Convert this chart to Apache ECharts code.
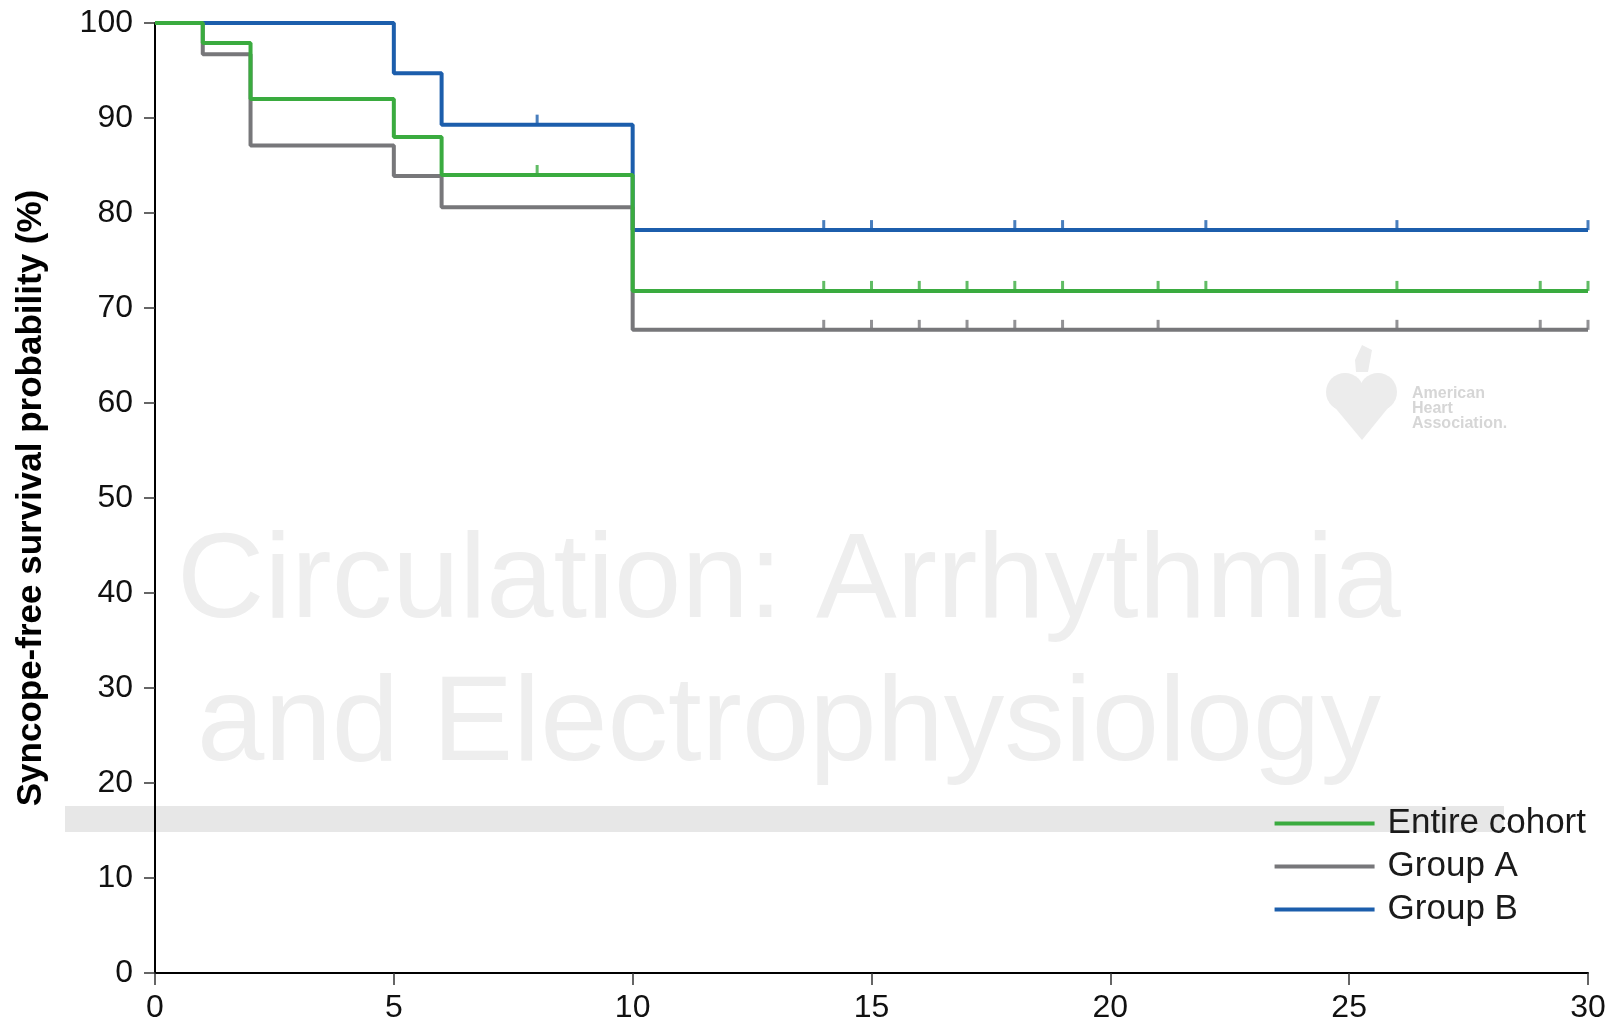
<!DOCTYPE html>
<html>
<head>
<meta charset="utf-8">
<script src="https://cdn.jsdelivr.net/npm/echarts@6/dist/echarts.min.js"></script>
<style>
html,body{margin:0;padding:0;background:#fff;}
#chart{width:1610px;height:1034px;}
</style>
</head>
<body>
<div id="chart"></div>
<script>
// ---- Data ----
const seriesNames = ['Entire cohort', 'Group A', 'Group B'];
const xTicks = [0, 5, 10, 15, 20, 25, 30];
const yTicks = [0, 10, 20, 30, 40, 50, 60, 70, 80, 90, 100];

const entireTimes = [0, 1, 2, 5, 6, 10, 30];
const entireSurv  = [100, 97.9, 92.0, 88.0, 84.0, 71.8, 71.8];
const entireCensor = [8, 14, 15, 16, 17, 18, 19, 21, 22, 26, 29, 30];

const groupATimes = [0, 1, 2, 5, 6, 10, 30];
const groupASurv  = [100, 96.7, 87.1, 83.9, 80.6, 67.7, 67.7];
const groupACensor = [14, 15, 16, 17, 18, 19, 21, 26, 29, 30];

const groupBTimes = [0, 5, 6, 10, 30];
const groupBSurv  = [100, 94.7, 89.3, 78.2, 78.2];
const groupBCensor = [8, 14, 15, 18, 19, 22, 26, 30];

const colors = ['#3aab3f', '#77777a', '#1c5eac'];

// ---- Build ----
function pairs(t, s) { return t.map((v, i) => [v, s[i]]); }
function stepValue(t, s, x) {
  let v = s[0];
  for (let i = 0; i < t.length; i++) { if (t[i] <= x) v = s[i]; }
  return v;
}
function censorPts(c, t, s) { return c.map(x => [x, stepValue(t, s, x)]); }

const groups = [
  { name: seriesNames[0], t: entireTimes, s: entireSurv, c: entireCensor },
  { name: seriesNames[1], t: groupATimes, s: groupASurv, c: groupACensor },
  { name: seriesNames[2], t: groupBTimes, s: groupBSurv, c: groupBCensor }
];

const series = [];
groups.forEach((g, i) => {
  series.push({
    name: g.name, type: 'line', step: 'end', data: pairs(g.t, g.s),
    showSymbol: false, symbol: 'none', z: 3 + (2 - i),
    lineStyle: { color: colors[i], width: 4 },
    itemStyle: { color: colors[i] }, animation: false
  });
  series.push({
    name: g.name + ' censored', type: 'scatter', data: censorPts(g.c, g.t, g.s),
    symbol: 'rect', symbolSize: [3, 10], symbolOffset: [0, -5], z: 3 + (2 - i),
    itemStyle: { color: colors[i] }, animation: false, silent: true
  });
});

const wmFont = '"Liberation Sans", Arial, sans-serif';
const chart = echarts.init(document.getElementById('chart'), null, { renderer: 'canvas' });
chart.setOption({
  backgroundColor: '#ffffff',
  animation: false,
  grid: { left: 155, right: 22, top: 23, bottom: 61, containLabel: false },
  graphic: [
    { type: 'rect', z: -10, shape: { x: 65, y: 806, width: 1439, height: 26 }, style: { fill: '#e7e7e7' } },
    { type: 'text', z: -10, x: 789, y: 644, style: { text: 'Circulation: Arrhythmia', fill: '#eeeeee', font: '121px ' + wmFont, textAlign: 'center', textVerticalAlign: 'bottom' } },
    { type: 'text', z: -10, x: 789, y: 787, style: { text: 'and Electrophysiology', fill: '#eeeeee', font: '121px ' + wmFont, textAlign: 'center', textVerticalAlign: 'bottom' } },
    { type: 'circle', z: -10, shape: { cx: 1345, cy: 392, r: 19 }, style: { fill: '#ececec' } },
    { type: 'circle', z: -10, shape: { cx: 1378, cy: 392, r: 19 }, style: { fill: '#ececec' } },
    { type: 'polygon', z: -10, shape: { points: [[1327, 398], [1396, 398], [1362, 440]] }, style: { fill: '#ececec' } },
    { type: 'polygon', z: -10, shape: { points: [[1356, 372], [1368, 372], [1372, 350], [1362, 345], [1355, 360]] }, style: { fill: '#ececec' } },
    { type: 'text', z: -10, x: 1412, y: 386, style: { text: 'American\nHeart\nAssociation.', fill: '#d6d6d6', font: '600 16px ' + wmFont, lineHeight: 15 } }
  ],
  legend: {
    data: seriesNames,
    orient: 'vertical',
    right: 19, top: 801,
    icon: 'rect', itemWidth: 100, itemHeight: 4, itemGap: 8,
    textStyle: { fontSize: 35, color: '#1a1a1a', fontFamily: wmFont, padding: [0, 0, 0, 8] }
  },
  xAxis: {
    type: 'value', min: 0, max: 30, interval: 5,
    axisLine: { show: true, lineStyle: { color: '#000', width: 2 } },
    axisTick: { show: true, length: 12, lineStyle: { color: '#333', width: 1.5 } },
    splitLine: { show: false },
    axisLabel: { fontSize: 32, color: '#111', margin: 19, fontFamily: wmFont,
      formatter: v => (xTicks.indexOf(v) >= 0 ? String(v) : '') }
  },
  yAxis: {
    type: 'value', min: 0, max: 100, interval: 10,
    name: 'Syncope-free survival probability (%)',
    nameLocation: 'middle', nameGap: 106, nameRotate: 90,
    nameTextStyle: { fontSize: 35, fontWeight: 'bold', color: '#000', fontFamily: wmFont },
    axisLine: { show: true, lineStyle: { color: '#000', width: 2 } },
    axisTick: { show: true, length: 11, lineStyle: { color: '#333', width: 1.5 } },
    splitLine: { show: false },
    axisLabel: { fontSize: 32, color: '#111', margin: 22, fontFamily: wmFont,
      formatter: v => (yTicks.indexOf(v) >= 0 ? String(v) : '') }
  },
  series: series
});
</script>
</body>
</html>
